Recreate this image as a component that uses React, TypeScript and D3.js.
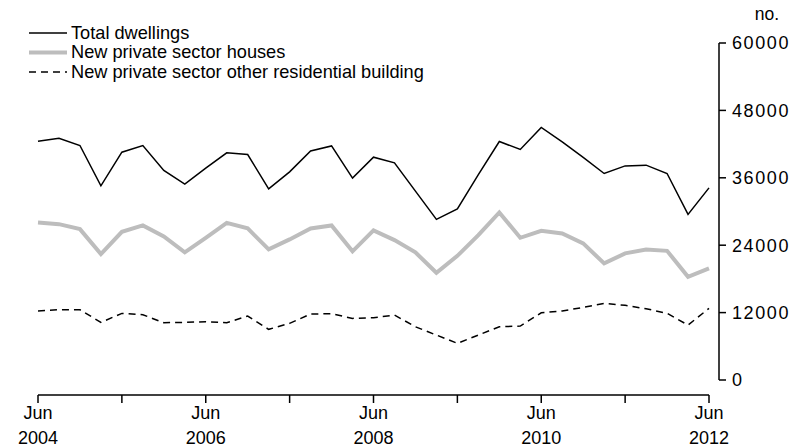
import * as d3 from 'd3';

// Quarterly, Jun 2004 – Jun 2012
const quarters = d3.timeMonth.range(new Date(2004, 5, 1), new Date(2012, 6, 1), 3);

const totalDwellings = [
  42500, 43050, 41750, 34570, 40560, 41750, 37300, 34870, 37710, 40440, 40150,
  34030, 37060, 40790, 41680, 35940, 39670, 38660, 33620, 28590, 30470, 36560,
  42460, 41040, 44960, 42390, 39620, 36770, 38120, 38250, 36770, 29480, 34210,
];
const privateHouses = [
  28050, 27750, 26860, 22420, 26380, 27520, 25560, 22720, 25320, 27980, 26990,
  23250, 25030, 26990, 27520, 22900, 26630, 24910, 22720, 19090, 22110, 25800,
  29830, 25320, 26560, 26100, 24320, 20760, 22540, 23250, 23000, 18380, 19870,
];
const otherResidential = [
  12280, 12510, 12510, 10260, 11860, 11620, 10200, 10260, 10370, 10200, 11390,
  9020, 10090, 11740, 11800, 10970, 11090, 11560, 9480, 8000, 6530, 8000,
  9480, 9610, 11970, 12280, 12930, 13640, 13290, 12690, 11870, 9780, 12750,
];
const yTicks = [0, 12000, 24000, 36000, 48000, 60000];

const series = [
  { name: 'Total dwellings', values: totalDwellings, color: '#000', width: 1.5, dash: '' },
  { name: 'New private sector houses', values: privateHouses, color: '#bdbdbd', width: 4, dash: '' },
  { name: 'New private sector other residential building', values: otherResidential, color: '#000', width: 1.5, dash: '7,5' },
];

const font = '"Liberation Sans", Arial, sans-serif';

export default function App() {
  const width = 797;
  const height = 448;
  const x = d3.scaleLinear().domain([0, quarters.length - 1]).range([38, 709]);
  const y = d3.scaleLinear().domain([0, 60000]).range([380, 43]);
  const axisX = 719;
  const axisY = 395;

  const line = d3.line<number>()
    .x((_, i) => x(i))
    .y(d => y(d));

  const yearTicks = quarters.map((d, i) => ({ d, i })).filter(({ i }) => i % 4 === 0);

  return (
    <div style={{ position: 'absolute', left: 0, top: 0 }}>
      <svg width={width} height={height} style={{ display: 'block', fontFamily: font }}>
        {/* legend */}
        {series.map((s, i) => (
          <g key={s.name} transform={`translate(0,${33 + i * 19.5})`}>
            <line x1={29} x2={67} y1={0} y2={0} stroke={s.color} strokeWidth={s.width}
              strokeDasharray={s.dash || undefined} />
            <text x={71} y={5.5} fontSize={18.2} fill="#000">{s.name}</text>
          </g>
        ))}

        {/* series */}
        {series.map(s => (
          <path key={s.name} d={line(s.values) || ''} fill="none" stroke={s.color}
            strokeWidth={s.width} strokeDasharray={s.dash || undefined} strokeLinejoin="miter" />
        ))}

        {/* y axis (right) */}
        <line x1={axisX} x2={axisX} y1={y(60000)} y2={y(0)} stroke="#000" strokeWidth={1.5} />
        {yTicks.map(t => (
          <g key={t} transform={`translate(${axisX},${y(t)})`}>
            <line x1={0} x2={7} stroke="#000" strokeWidth={1.5} />
            <text x={13} dy="0.35em" fontSize={18} letterSpacing={t === 0 ? 0 : 1.6} fill="#000">{t}</text>
          </g>
        ))}
        <text x={767} y={20} textAnchor="middle" fontSize={17.5} fill="#000">no.</text>

        {/* x axis */}
        <line x1={x(0)} x2={x(quarters.length - 1)} y1={axisY} y2={axisY} stroke="#000" strokeWidth={1.5} />
        {yearTicks.map(({ d, i }) => (
          <g key={i} transform={`translate(${x(i)},${axisY})`}>
            <line y1={0} y2={8} stroke="#000" strokeWidth={1.5} />
            {d.getFullYear() % 2 === 0 && (
              <>
                <text y={24} textAnchor="middle" fontSize={18} fill="#000">{d3.timeFormat('%b')(d)}</text>
                <text y={49} textAnchor="middle" fontSize={18} fill="#000">{d3.timeFormat('%Y')(d)}</text>
              </>
            )}
          </g>
        ))}
      </svg>
    </div>
  );
}
